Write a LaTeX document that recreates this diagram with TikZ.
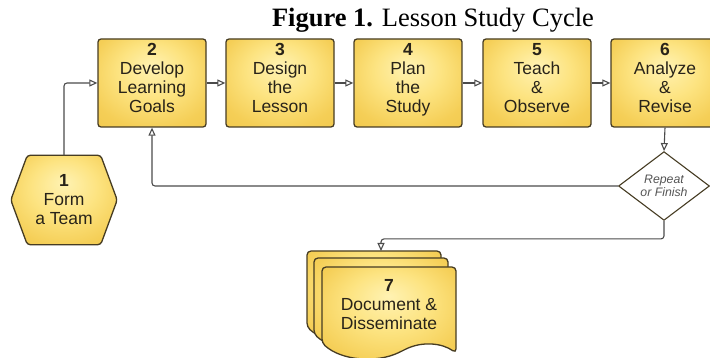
\documentclass[tikz,border=0pt]{standalone}
\usepackage{fontspec}
\setmainfont{Liberation Serif}
\newfontfamily\labelfont{Liberation Sans}
\usetikzlibrary{arrows.meta, shapes.geometric, backgrounds, calc}

\definecolor{edgebrown}{RGB}{70,60,35}
\definecolor{linegray}{RGB}{75,75,75}
\definecolor{inkdark}{RGB}{40,35,25}
\definecolor{notegray}{RGB}{85,85,85}
\pgfdeclareradialshading{goldglow}{\pgfpoint{0bp}{10bp}}{rgb(0bp)=(1,0.95,0.70); rgb(16bp)=(0.99,0.89,0.50); rgb(30bp)=(0.96,0.81,0.34); rgb(50bp)=(0.93,0.76,0.26)}

\tikzset{
  goldfill/.style={shade, shading=goldglow, draw=edgebrown, line width=1.3},
  steptext/.style={inner sep=0, align=center, text=inkdark, font=\labelfont\fontsize{17.5}{19}\selectfont},
  stepbox/.style={goldfill, steptext, rectangle, rounded corners=3, minimum width=108, minimum height=88, text depth=10},
  hexlabel/.style={steptext, minimum width=106, minimum height=89},
  decision/.style={diamond, draw=edgebrown, line width=1.1, fill=white, minimum width=91, minimum height=57, inner sep=0, align=center, text=notegray, font=\labelfont\itshape\fontsize{12.3}{13}\selectfont},
  sheet/.style={goldfill, rounded corners=4},
  conn/.style={draw=linegray, line width=1.1, rounded corners=3, -{Triangle[open, length=8pt, width=7pt]}}
}

% one page of the document stack, #1 = top left corner
\newcommand{\docsheet}[1]{%
  \shade[sheet, shift={#1}] (0,0) -- (134,0) -- (134,86)
    .. controls (120,76) and (100,74) .. (80,84)
    .. controls (55,96) and (20,94) .. (0,76) -- cycle;}

\begin{document}
\begin{tikzpicture}[x=1pt, y=-1pt]
\useasboundingbox (0,0) rectangle (710,358);
\clip (0,0) rectangle (710,358);

\node[anchor=base, font=\fontsize{26.5}{30}\selectfont] (title) at (433,27) {\textbf{Figure 1.} Lesson Study Cycle};

% top row of steps
\node[stepbox] (b2) at (152,83) {\textbf{2}\\Develop\\Learning\\Goals};
\node[stepbox] (b3) at (280,83) {\textbf{3}\\Design\\the\\Lesson};
\node[stepbox] (b4) at (408,83) {\textbf{4}\\Plan\\the\\Study};
\node[stepbox] (b5) at (537,83) {\textbf{5}\\Teach\\\&\\Observe};
\node[stepbox] (b6) at (665,83) {\textbf{6}\\Analyze\\\&\\Revise};

% start: hexagon
\node[hexlabel] (hex) at (64,200) {\textbf{1}\\Form\\a Team};
\begin{scope}[on background layer]
\shade[goldfill, rounded corners=3] (hex.west) -- ([xshift=16.5]hex.north west) -- ([xshift=-16.5]hex.north east)
  -- (hex.east) -- ([xshift=-16.5]hex.south east) -- ([xshift=16.5]hex.south west) -- cycle;
\end{scope}

\node[decision] (dia) at (664,186) {Repeat\\or Finish};

% end: stacked document
\docsheet{(307,251)}
\docsheet{(314,258)}
\docsheet{(322,267)}
\node[steptext] (doc) at (389,305) {\textbf{7}\\Document \&\\Disseminate};
\coordinate (doctop) at (381,251);

% connectors
\draw[conn] (hex.north) |- (b2.west);
\draw[conn] (b2.east) -- (b3.west);
\draw[conn] (b3.east) -- (b4.west);
\draw[conn] (b4.east) -- (b5.west);
\draw[conn] (b5.east) -- (b6.west);
\draw[conn] (b6.south) -- (dia.north);
\draw[conn] (dia.west) -| (b2.south);
\draw[conn] (dia.south) -- ++(0,18) -| (doctop);
\end{tikzpicture}
\end{document}
